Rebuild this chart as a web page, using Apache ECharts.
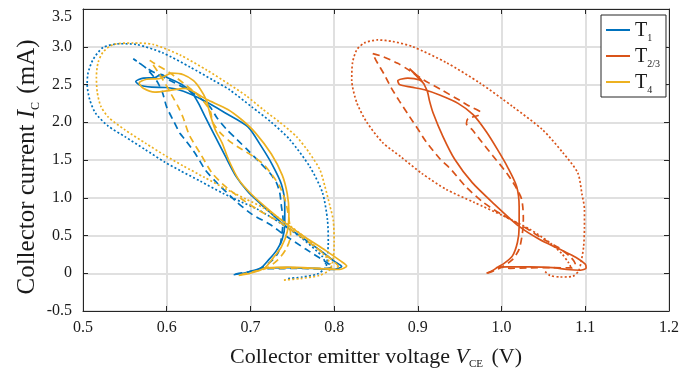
<!DOCTYPE html>
<html>
<head>
<meta charset="utf-8">
<script src="https://cdn.jsdelivr.net/npm/echarts@6/dist/echarts.min.js"></script>
<style>
  html, body { margin: 0; padding: 0; background: #fff; }
  #chart { width: 691px; height: 375px; }
</style>
</head>
<body>
<div id="chart"></div>
<script>
// Trajectories in the (V_CE [V], I_C [mA]) plane, one per transistor and operating mode.
const t1Solid = [
  [0.680,-0.02],[0.695,0.01],[0.712,0.065],[0.722,0.18],[0.731,0.30],[0.738,0.45],[0.741,0.65],[0.741,0.91],
  [0.737,1.18],[0.726,1.44],[0.713,1.68],[0.697,1.94],[0.669,2.13],[0.642,2.30],[0.620,2.41],[0.600,2.46],
  [0.582,2.465],[0.568,2.49],[0.563,2.54],[0.572,2.585],[0.586,2.59],[0.593,2.635],[0.601,2.59],[0.618,2.50],
  [0.630,2.39],[0.638,2.25],[0.646,2.07],[0.658,1.81],[0.670,1.55],[0.683,1.28],[0.697,1.08],[0.712,0.92],
  [0.726,0.78],[0.739,0.65],[0.761,0.48],[0.785,0.29],[0.800,0.16],[0.809,0.09],[0.800,0.05],[0.775,0.065],
  [0.743,0.075],[0.720,0.07],[0.712,0.065]
];
const t1Dashed = [
  [0.682,-0.01],[0.698,0.02],[0.712,0.065],[0.725,0.16],[0.733,0.27],[0.736,0.40],[0.738,0.55],[0.739,0.71],
  [0.737,0.89],[0.735,1.07],[0.731,1.20],[0.723,1.33],[0.711,1.47],[0.696,1.64],[0.684,1.77],[0.672,1.90],
  [0.660,2.06],[0.652,2.20],[0.640,2.32],[0.625,2.43],[0.608,2.53],[0.588,2.64],[0.573,2.74],[0.560,2.84],
  [0.575,2.72],[0.588,2.55],[0.595,2.39],[0.600,2.20],[0.609,2.00],[0.616,1.85],[0.622,1.77],[0.635,1.57],
  [0.646,1.37],[0.658,1.22],[0.683,0.95],[0.702,0.78],[0.723,0.65],[0.739,0.52],[0.766,0.32],[0.790,0.15],
  [0.798,0.085],[0.785,0.06],[0.755,0.065],[0.725,0.06],[0.712,0.065]
];
const t1Dotted = [
  [0.745,-0.07],[0.762,-0.05],[0.780,-0.01],[0.790,0.08],[0.792,0.22],[0.793,0.41],[0.792,0.71],[0.786,1.07],
  [0.771,1.41],[0.747,1.77],[0.725,2.00],[0.702,2.20],[0.675,2.43],[0.655,2.56],[0.628,2.73],[0.595,2.92],
  [0.564,3.03],[0.544,3.04],[0.524,2.99],[0.512,2.83],[0.506,2.65],[0.505,2.50],[0.508,2.30],[0.515,2.12],
  [0.530,1.95],[0.550,1.81],[0.574,1.64],[0.598,1.47],[0.616,1.36],[0.640,1.22],[0.667,1.06],[0.690,0.94],
  [0.708,0.85],[0.735,0.67],[0.763,0.45],[0.786,0.22],[0.790,0.12]
];

const t23Solid = [
  [0.982,0.00],[0.990,0.04],[0.995,0.08],[1.003,0.13],[1.013,0.23],[1.019,0.41],[1.021,0.62],[1.021,0.88],
  [1.018,1.15],[1.007,1.41],[0.995,1.64],[0.982,1.87],[0.966,2.10],[0.948,2.25],[0.926,2.36],[0.908,2.43],
  [0.892,2.465],[0.878,2.50],[0.876,2.55],[0.888,2.585],[0.902,2.56],[0.908,2.50],[0.890,2.71],[0.904,2.56],
  [0.911,2.42],[0.914,2.28],[0.918,2.13],[0.930,1.81],[0.944,1.51],[0.965,1.20],[0.989,0.94],[1.021,0.62],
  [1.045,0.45],[1.069,0.32],[1.089,0.21],[1.100,0.12],[1.101,0.07],[1.094,0.04],[1.078,0.05],[1.061,0.075],
  [1.033,0.085],[1.006,0.085],[0.995,0.08]
];
const t23Dashed = [
  [0.983,0.00],[0.992,0.04],[1.000,0.08],[1.013,0.18],[1.021,0.32],[1.025,0.54],[1.026,0.73],[1.024,0.98],
  [1.016,1.16],[1.006,1.33],[0.990,1.55],[0.977,1.73],[0.965,1.90],[0.958,1.98],[0.960,2.05],[0.972,2.09],
  [0.975,2.13],[0.962,2.21],[0.950,2.29],[0.928,2.43],[0.907,2.56],[0.888,2.70],[0.876,2.78],[0.858,2.87],
  [0.846,2.91],[0.850,2.82],[0.860,2.63],[0.868,2.46],[0.878,2.28],[0.888,2.11],[0.900,1.91],[0.910,1.74],
  [0.926,1.52],[0.940,1.37],[0.957,1.15],[0.978,0.94],[1.000,0.78],[1.029,0.60],[1.050,0.45],[1.068,0.34],
  [1.082,0.22],[1.088,0.12],[1.084,0.07],[1.060,0.075],[1.030,0.07],[1.010,0.065],[1.000,0.08]
];
const t23Dotted = [
  [1.052,0.02],[1.058,-0.03],[1.070,-0.05],[1.085,-0.04],[1.092,0.03],[1.095,0.15],[1.098,0.35],[1.099,0.60],
  [1.099,0.85],[1.096,1.05],[1.091,1.33],[1.073,1.60],[1.049,1.90],[1.013,2.21],[0.974,2.52],[0.934,2.79],
  [0.894,3.00],[0.870,3.07],[0.852,3.09],[0.836,3.05],[0.827,2.96],[0.822,2.79],[0.821,2.56],[0.827,2.26],
  [0.839,2.00],[0.858,1.73],[0.880,1.54],[0.905,1.32],[0.934,1.11],[0.967,0.94],[1.002,0.76],[1.034,0.58],
  [1.057,0.41],[1.072,0.26],[1.080,0.14],[1.084,0.05]
];

const t4Solid = [
  [0.686,-0.03],[0.700,0.00],[0.717,0.07],[0.727,0.20],[0.737,0.35],[0.744,0.55],[0.746,0.80],[0.744,1.05],
  [0.738,1.30],[0.725,1.58],[0.706,1.86],[0.690,2.03],[0.673,2.17],[0.648,2.30],[0.622,2.45],[0.603,2.42],
  [0.586,2.40],[0.572,2.45],[0.567,2.52],[0.576,2.57],[0.592,2.58],[0.606,2.65],[0.620,2.63],[0.632,2.55],
  [0.640,2.44],[0.647,2.30],[0.652,2.10],[0.658,1.90],[0.666,1.73],[0.674,1.50],[0.686,1.24],[0.701,1.05],
  [0.720,0.86],[0.741,0.67],[0.765,0.48],[0.790,0.30],[0.808,0.16],[0.815,0.095],[0.806,0.05],[0.780,0.065],
  [0.745,0.08],[0.725,0.075],[0.717,0.07]
];
const t4Dashed = [
  [0.688,-0.02],[0.703,0.02],[0.720,0.07],[0.733,0.18],[0.743,0.33],[0.748,0.50],[0.746,0.72],[0.742,0.95],
  [0.735,1.15],[0.726,1.30],[0.716,1.44],[0.703,1.55],[0.690,1.64],[0.676,1.74],[0.664,1.86],[0.655,2.00],
  [0.652,2.15],[0.640,2.33],[0.622,2.50],[0.603,2.66],[0.588,2.76],[0.580,2.82],[0.590,2.66],[0.600,2.48],
  [0.606,2.36],[0.614,2.20],[0.620,2.05],[0.627,1.83],[0.641,1.57],[0.654,1.33],[0.670,1.15],[0.690,0.98],
  [0.712,0.82],[0.733,0.69],[0.752,0.55],[0.776,0.36],[0.797,0.18],[0.805,0.09],[0.790,0.06],[0.755,0.07],
  [0.730,0.065],[0.720,0.07]
];
const t4Dotted = [
  [0.740,-0.09],[0.760,-0.07],[0.782,-0.03],[0.795,0.05],[0.799,0.20],[0.800,0.41],[0.799,0.70],[0.795,0.89],
  [0.789,1.15],[0.783,1.37],[0.770,1.60],[0.755,1.81],[0.735,2.00],[0.715,2.17],[0.695,2.35],[0.675,2.50],
  [0.648,2.69],[0.616,2.89],[0.584,3.03],[0.560,3.05],[0.536,3.03],[0.524,2.93],[0.518,2.79],[0.516,2.60],
  [0.517,2.40],[0.521,2.22],[0.530,2.07],[0.550,1.90],[0.575,1.72],[0.598,1.56],[0.620,1.42],[0.645,1.27],
  [0.670,1.12],[0.695,0.98],[0.715,0.87],[0.742,0.67],[0.768,0.45],[0.790,0.22],[0.796,0.12]
];

// Legend entries: [series name, base letter, subscript]
const legendEntries = [['T1', 'T', '1'], ['T2/3', 'T', '2/3'], ['T4', 'T', '4']];
const xTicks = ['0.5', '0.6', '0.7', '0.8', '0.9', '1.0', '1.1', '1.2'];
const yTicks = ['-0.5', '0', '0.5', '1.0', '1.5', '2.0', '2.5', '3.0', '3.5'];

const BLUE = '#0072BD', ORANGE = '#D95319', YELLOW = '#EDB120';
const SERIF = "'Liberation Serif', 'DejaVu Serif', serif";
const TXT = '#1a1a1a';
const FRAME = '#262626';

function curve(name, data, color, kind) {
  const dash = kind === 'dashed' ? [7, 4.5] : kind === 'dotted' ? [2, 2.2] : 'solid';
  return {
    name, type: 'line', data, symbol: 'none', smooth: 0.25,
    lineStyle: { color, width: 1.7, type: dash },
    itemStyle: { color },
    emphasis: { disabled: true },
    z: 3
  };
}

function tickFmt(list, min, step) {
  return v => {
    const i = Math.round((v - min) / step);
    return list[i] !== undefined ? list[i] : '';
  };
}

// Plain frame axis (top / right) carrying only inward ticks.
function frameAxis(position, min, max, interval) {
  return {
    type: 'value', min, max, interval, position,
    axisLine: { show: true, onZero: false, lineStyle: { color: FRAME, width: 1 } },
    axisTick: { show: true, inside: true, length: 5, lineStyle: { color: FRAME } },
    axisLabel: { show: false },
    splitLine: { show: false }
  };
}

function axisNameRich(size, subSize, subPad) {
  const lh = size + 2;
  return {
    n: { fontFamily: SERIF, fontSize: size, color: TXT, lineHeight: lh, verticalAlign: 'bottom' },
    i: { fontFamily: SERIF, fontSize: size, fontStyle: 'italic', color: TXT, lineHeight: lh, verticalAlign: 'bottom' },
    s: { fontFamily: SERIF, fontSize: subSize, color: TXT, lineHeight: lh, verticalAlign: 'bottom', padding: subPad }
  };
}

const chart = echarts.init(document.getElementById('chart'), null, { renderer: 'canvas' });

chart.setOption({
  animation: false,
  backgroundColor: '#fff',
  grid: { left: 83, top: 9, width: 586, height: 303, show: true, borderColor: FRAME, borderWidth: 1, backgroundColor: 'transparent' },
  legend: {
    data: legendEntries.map(e => e[0]),
    orient: 'vertical',
    left: 601, top: 15,
    padding: [6, 6, 2, 5],
    itemGap: 4,
    itemWidth: 24, itemHeight: 2,
    icon: 'rect',
    backgroundColor: '#fff',
    borderColor: FRAME, borderWidth: 1,
    selectedMode: false,
    formatter: name => {
      const e = legendEntries.find(x => x[0] === name);
      return '{t|' + e[1] + '}{s|' + e[2] + '}';
    },
    textStyle: {
      rich: {
        t: { fontFamily: SERIF, fontSize: 20, color: TXT, lineHeight: 22, verticalAlign: 'bottom' },
        s: { fontFamily: SERIF, fontSize: 10, color: TXT, lineHeight: 22, verticalAlign: 'bottom', padding: [0, 0, -2, 0] }
      }
    }
  },
  xAxis: [{
    type: 'value', min: 0.5, max: 1.2, interval: 0.1,
    position: 'bottom',
    axisLine: { show: true, onZero: false, lineStyle: { color: FRAME, width: 1 } },
    axisTick: { show: true, inside: true, length: 5, lineStyle: { color: FRAME } },
    axisLabel: { formatter: tickFmt(xTicks, 0.5, 0.1), fontFamily: SERIF, fontSize: 16, color: TXT, margin: 9 },
    splitLine: { show: true, lineStyle: { color: '#e0e0e0', width: 2 } },
    name: '{n|Collector emitter voltage }{i|V}{s|CE}{n| (V)}',
    nameLocation: 'middle', nameGap: 33,
    nameTextStyle: { rich: axisNameRich(22, 11, [0, 3, -2, 0]) }
  }, frameAxis('top', 0.5, 1.2, 0.1)],
  yAxis: [{
    type: 'value', min: -0.5, max: 3.5, interval: 0.5,
    position: 'left',
    axisLine: { show: true, onZero: false, lineStyle: { color: FRAME, width: 1 } },
    axisTick: { show: true, inside: true, length: 5, lineStyle: { color: FRAME } },
    axisLabel: {
      formatter: tickFmt(yTicks, -0.5, 0.5), fontFamily: SERIF, fontSize: 16, color: TXT, margin: 11,
      verticalAlignMaxLabel: 'top'
    },
    splitLine: { show: true, lineStyle: { color: '#e0e0e0', width: 2 } },
    name: '{n|Collector current }{i|I}{s|C}{n| (mA)}',
    nameLocation: 'middle', nameGap: 43, nameRotate: 90, nameMoveOverlap: false,
    nameTextStyle: { padding: [0, 14, 0, 0], rich: axisNameRich(25, 12, [0, 2, -2, 0]) }
  }, frameAxis('right', -0.5, 3.5, 0.5)],
  series: [
    curve('T1', t1Solid, BLUE, 'solid'),
    curve('T1 dashed', t1Dashed, BLUE, 'dashed'),
    curve('T1 dotted', t1Dotted, BLUE, 'dotted'),
    curve('T2/3', t23Solid, ORANGE, 'solid'),
    curve('T2/3 dashed', t23Dashed, ORANGE, 'dashed'),
    curve('T2/3 dotted', t23Dotted, ORANGE, 'dotted'),
    curve('T4', t4Solid, YELLOW, 'solid'),
    curve('T4 dashed', t4Dashed, YELLOW, 'dashed'),
    curve('T4 dotted', t4Dotted, YELLOW, 'dotted')
  ]
});
</script>
</body>
</html>
